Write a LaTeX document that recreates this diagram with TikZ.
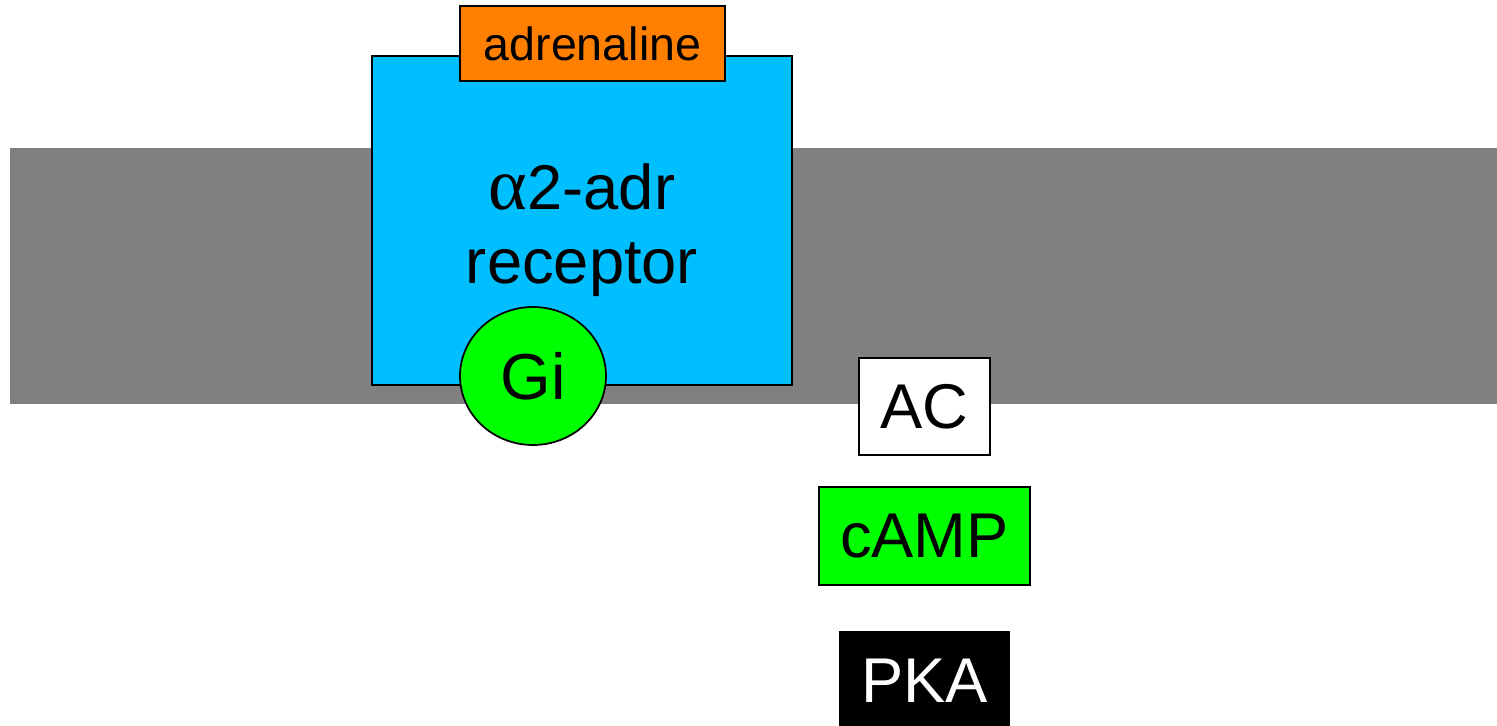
\documentclass[tikz,border=0pt]{standalone}
\usepackage{fontspec}
\setmainfont{Liberation Sans}
\newfontfamily\greekfont{Liberation Serif}
\usetikzlibrary{positioning, shapes.geometric}

\definecolor{membrane}{RGB}{128,128,128}
\definecolor{receptorblue}{RGB}{0,191,255}
\definecolor{ligandorange}{RGB}{255,128,0}
\definecolor{proteingreen}{RGB}{0,255,0}

\begin{document}
\begin{tikzpicture}[
    x=0.02cm, y=-0.02cm,
    node distance=0.6cm,
    bigtext/.style={font=\fontsize{36}{42.5}\selectfont},
    box/.style={
        rectangle,
        draw,
        line width=1pt,
        inner sep=0pt,
        bigtext
    },
    gprot/.style={
        ellipse,
        draw,
        line width=1pt,
        inner sep=0pt,
        fill=proteingreen,
        minimum width=2.92cm,
        minimum height=2.76cm,
        font=\fontsize{37}{42.5}\selectfont
    }
]
\useasboundingbox (0,0) rectangle (1497,726);

% membrane
\fill[membrane] (10,148) rectangle (1497,404);

\node[box, fill=receptorblue, minimum width=8.4cm, minimum height=6.58cm] (rec) at (582,220.5) {};
\node[bigtext, align=center] (reclabel) at (582,230) {{\greekfont\fontsize{42}{42.5}\selectfont α}2-adr\\receptor};
\node[box, fill=ligandorange, minimum width=5.3cm, minimum height=1.5cm,
      font=\fontsize{26.5}{30}\selectfont] (adr) at (592.5,43.5) {adrenaline};
\node[gprot] (gi) at (533,376) {Gi};

\node[box, fill=white, minimum width=2.62cm, minimum height=1.94cm] (ac) at (924.5,406.5) {AC};
\node[box, fill=proteingreen, minimum width=4.22cm, minimum height=1.96cm] (camp) [below=0.6cm of ac] {cAMP};
\node[box, fill=black, text=white, minimum width=3.38cm, minimum height=1.96cm] (pka) [below=0.9cm of camp] {PKA};

\end{tikzpicture}
\end{document}
